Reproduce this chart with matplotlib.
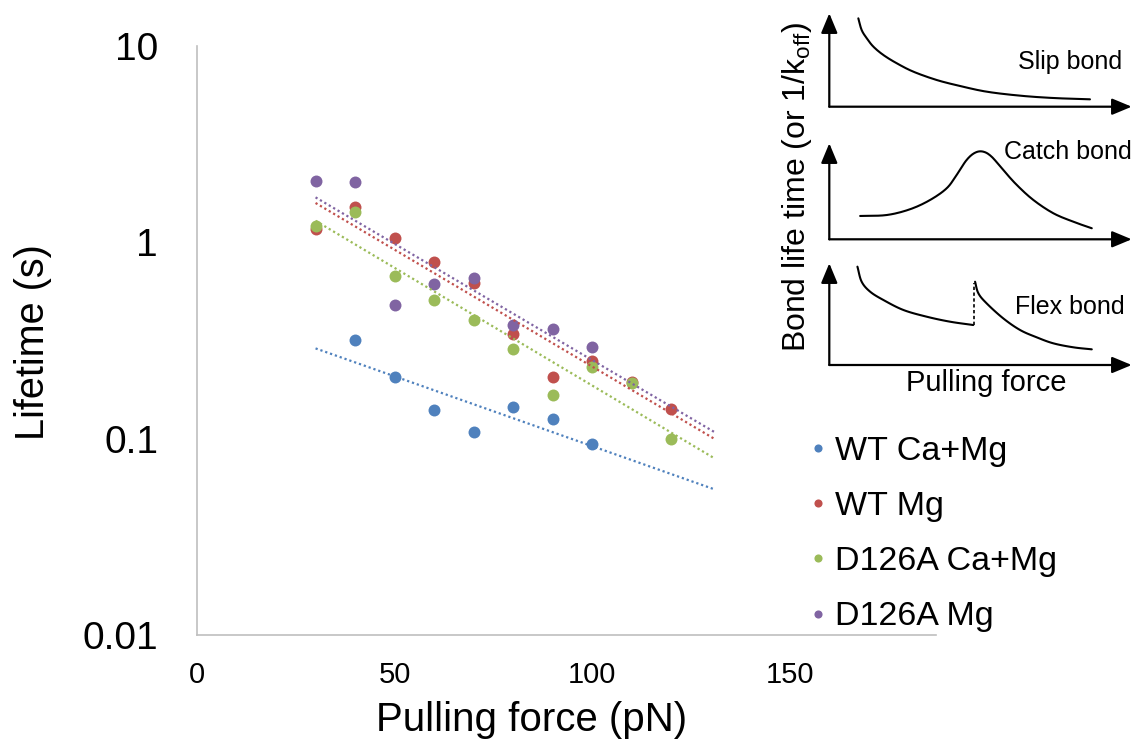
import numpy as np
import matplotlib
matplotlib.use("Agg")
from matplotlib import pyplot as plt

plt.rcParams['font.family'] = ['Liberation Sans', 'DejaVu Sans']
plt.rcParams['mathtext.fontset'] = 'custom'
plt.rcParams['mathtext.rm'] = 'Liberation Sans'
plt.rcParams['mathtext.it'] = 'Liberation Sans:italic'

# lifetimes (s) vs pulling force (pN)
force = [30, 40, 50, 60, 70, 80, 90, 100, 110, 120]
wt_camg_force = [40, 50, 60, 70, 80, 90, 100]
wt_camg = [0.317, 0.205, 0.140, 0.108, 0.145, 0.126, 0.094]
wt_mg = [1.17, 1.52, 1.05, 0.79, 0.62, 0.343, 0.207, 0.249, 0.195, 0.141]
d126a_camg = [1.21, 1.43, 0.675, 0.51, 0.40, 0.285, 0.167, 0.233, 0.191, 0.100]
d126a_mg_force = [30, 40, 50, 60, 70, 80, 90, 100]
d126a_mg = [2.06, 2.04, 0.48, 0.61, 0.66, 0.38, 0.363, 0.293]

series_names = ["WT Ca+Mg", "WT Mg", "D126A Ca+Mg", "D126A Mg"]
series_colors = ["#4F81BD", "#C0504D", "#9BBB59", "#8064A2"]
trend_range = (30, 131)

y_ticks = [0.01, 0.1, 1, 10]
y_ticklabels = ["0.01", "0.1", "1", "10"]
x_ticks = [0, 50, 100, 150]

# schematic curves for the bond-type sketch (normalised panel units)
slip_u = [0.096, 0.107, 0.124, 0.146, 0.179, 0.223, 0.278, 0.355, 0.432, 0.520, 0.631, 0.741, 0.862]
slip_v = [0.946, 0.821, 0.732, 0.642, 0.553, 0.465, 0.375, 0.286, 0.222, 0.161, 0.118, 0.093, 0.079]
catch_u = [0.102, 0.190, 0.267, 0.333, 0.388, 0.421, 0.454, 0.482, 0.509, 0.537, 0.575, 0.620, 0.675, 0.741, 0.807, 0.868]
catch_v = [0.243, 0.253, 0.313, 0.409, 0.531, 0.670, 0.826, 0.902, 0.913, 0.860, 0.722, 0.566, 0.409, 0.271, 0.183, 0.115]
flex1_u = [0.093, 0.107, 0.135, 0.179, 0.245, 0.322, 0.399, 0.476]
flex1_v = [0.967, 0.819, 0.721, 0.639, 0.541, 0.475, 0.426, 0.393]
flex2_u = [0.482, 0.493, 0.520, 0.575, 0.631, 0.686, 0.741, 0.807, 0.868]
flex2_v = [0.819, 0.705, 0.607, 0.459, 0.344, 0.272, 0.213, 0.174, 0.154]
flex_jump_u = [0.478, 0.478]
flex_jump_v = [0.393, 0.803]


def smooth(u, v, n=12):
    """Catmull-Rom spline through the sketch points."""
    p = np.column_stack([u, v]).astype(float)
    p = np.vstack([2 * p[0] - p[1], p, 2 * p[-1] - p[-2]])
    out = []
    t = np.linspace(0, 1, n, endpoint=False)[:, None]
    for i in range(1, len(p) - 2):
        p0, p1, p2, p3 = p[i - 1], p[i], p[i + 1], p[i + 2]
        seg = 0.5 * ((2 * p1) + (-p0 + p2) * t
                     + (2 * p0 - 5 * p1 + 4 * p2 - p3) * t ** 2
                     + (-p0 + 3 * p1 - 3 * p2 + p3) * t ** 3)
        out.append(seg)
    out.append(p[-2][None, :])
    out = np.vstack(out)
    return out[:, 0], out[:, 1]


W, H = 1139, 740
fig = plt.figure(figsize=(W / 100, H / 100), dpi=100)
ax = fig.add_axes([197 / W, 1 - 635 / H, (936 - 197) / W, (635 - 46) / H])

xs_list = [wt_camg_force, force, force, d126a_mg_force]
ys_list = [wt_camg, wt_mg, d126a_camg, d126a_mg]

for xs, ys, name, col in zip(xs_list, ys_list, series_names, series_colors):
    ax.plot(xs, ys, linestyle='none', marker='o', markersize=8.6,
            color=col, markeredgewidth=0, label=name, zorder=3)

# exponential trend lines (linear fit of log10 lifetime)
for xs, ys, col in zip(xs_list, ys_list, series_colors):
    coef = np.polyfit(xs, np.log10(ys), 1)
    xt = np.linspace(trend_range[0], trend_range[1], 200)
    ax.plot(xt, 10 ** np.polyval(coef, xt), color=col, lw=1.6,
            linestyle=(0, (1, 1.3)), zorder=4)

ax.set_yscale('log')
ax.set_ylim(0.01, 10)
ax.set_xlim(0, 187)
ax.set_yticks(y_ticks)
ax.set_yticklabels(y_ticklabels)
ax.yaxis.set_minor_locator(matplotlib.ticker.NullLocator())
ax.set_xticks(x_ticks)
ax.tick_params(axis='y', length=0, pad=28, labelsize=28)
ax.tick_params(axis='x', length=0, pad=19, labelsize=21)
for s in ['top', 'right']:
    ax.spines[s].set_visible(False)
for s in ['left', 'bottom']:
    ax.spines[s].set_color('#BFBFBF')
    ax.spines[s].set_linewidth(1.2)

fig.text(532 / W, 1 - 720 / H, "Pulling force (pN)", fontsize=29,
         ha='center', va='center')
fig.text(33 / W, 1 - 342 / H, "Lifetime (s)", fontsize=28.5, rotation=90,
         ha='center', va='center')

leg = ax.legend(loc='upper left', bbox_to_anchor=(809 / W, 1 - 436 / H),
                bbox_transform=fig.transFigure, frameon=False, fontsize=24.5,
                markerscale=0.68, handlelength=0.5, handletextpad=0.25,
                labelspacing=0.71, borderpad=0, borderaxespad=0)


def schematic_panel(origin_y, top_y):
    a = fig.add_axes([829.3 / W, 1 - origin_y / H, (1131.7 - 829.3) / W,
                      (origin_y - top_y) / H])
    a.set_xlim(0, 1)
    a.set_ylim(0, 1)
    a.axis('off')
    arrow = dict(arrowstyle='-|>,head_length=0.6,head_width=0.25', lw=1.6,
                 color='black', mutation_scale=20, shrinkA=0, shrinkB=0)
    a.annotate('', xy=(1, 0), xytext=(0, 0), arrowprops=arrow,
               annotation_clip=False)
    a.annotate('', xy=(0, 1), xytext=(0, 0), arrowprops=arrow,
               annotation_clip=False)
    return a


line_kw = dict(color='black', lw=1.5, solid_capstyle='round')

p1 = schematic_panel(106.7, 13.3)
p1.plot(*smooth(slip_u, slip_v), **line_kw)
p1.text(0.796, 0.48, "Slip bond", fontsize=18, ha='center', va='center')

p2 = schematic_panel(239.3, 143.3)
p2.plot(*smooth(catch_u, catch_v), **line_kw)
p2.text(0.79, 0.91, "Catch bond", fontsize=18, ha='center', va='center')

p3 = schematic_panel(365, 263.3)
p3.plot(*smooth(flex1_u, flex1_v), **line_kw)
p3.plot(*smooth(flex2_u, flex2_v), **line_kw)
p3.plot(flex_jump_u, flex_jump_v, color='black', lw=1.2, linestyle=(0, (2, 1.5)))
p3.text(0.796, 0.57, "Flex bond", fontsize=18, ha='center', va='center')

fig.text(797 / W, 1 - 187 / H, "Bond life time (or 1/k$_{\\mathrm{off}}$)",
         fontsize=23, rotation=90, ha='center', va='center')
fig.text(986.7 / W, 1 - 383 / H, "Pulling force", fontsize=21,
         ha='center', va='center')

fig.savefig("out.png", dpi=100)
